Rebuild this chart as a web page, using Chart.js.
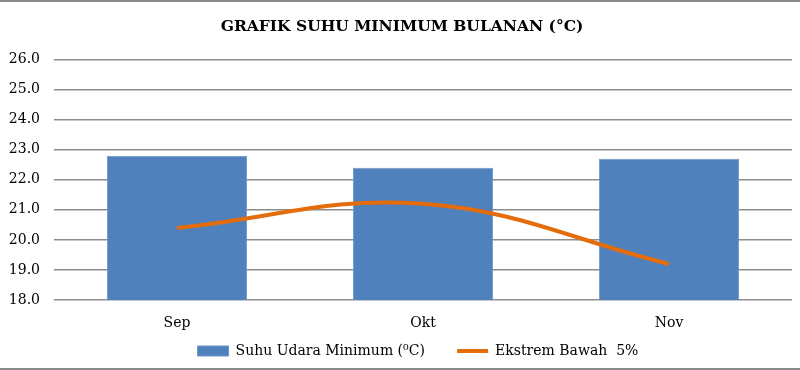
<!DOCTYPE html>
<html>
<head>
<meta charset="utf-8">
<script src="https://cdn.jsdelivr.net/npm/chart.js@4"></script>
<style>
  html, body { margin: 0; padding: 0; background: #fff; }
  #wrap {
    position: relative;
    width: 800px;
    height: 366px;
    border-top: 2px solid #8a8a8a;
    border-bottom: 2px solid #8a8a8a;
  }
</style>
</head>
<body>
<div id="wrap"><canvas id="chart"></canvas></div>
<script>
  var MONTHS = ['Sep', 'Okt', 'Nov'];
  var SUHU_MIN = [22.8, 22.4, 22.7];
  var EKSTREM_BAWAH = [20.4, 21.2, 19.2];
  var Y_MIN = 18.0;
  var Y_MAX = 26.0;

  var SERIF = '"DejaVu Serif", "Liberation Serif", serif';

  // the original has title and legend sitting a little right of centre
  var nudgeBoxes = {
    id: 'nudgeBoxes',
    afterLayout: function (chart) {
      if (chart.titleBlock) { chart.titleBlock.left += 6; chart.titleBlock.right += 6; }
      if (chart.legend) { chart.legend.left += 22; chart.legend.right += 22; }
    },
  };

  new Chart(document.getElementById('chart'), {
    data: {
      labels: MONTHS,
      datasets: [
        {
          type: 'line',
          label: 'Ekstrem Bawah  5%',
          data: EKSTREM_BAWAH,
          borderColor: '#e46c0a',
          backgroundColor: '#e46c0a',
          borderWidth: 4,
          tension: 0.4,
          pointRadius: 0,
          pointStyle: 'line',
          order: 0,
        },
        {
          type: 'bar',
          label: 'Suhu Udara Minimum (\u2070C)',
          data: SUHU_MIN,
          backgroundColor: '#4f81bd',
          borderColor: '#6f97c8',
          borderWidth: 1,
          categoryPercentage: 1.0,
          barPercentage: 0.57,
          pointStyle: 'rect',
          order: 1,
        },
      ],
    },
    plugins: [nudgeBoxes],
    options: {
      responsive: true,
      maintainAspectRatio: false,
      animation: false,
      layout: { padding: { left: 0, right: 8, top: 0, bottom: 0 } },
      plugins: {
        title: {
          display: true,
          text: 'GRAFIK SUHU MINIMUM BULANAN (\u00b0C)',
          color: '#000',
          font: { family: SERIF, size: 15.5, weight: 'bold' },
          padding: { top: 16, bottom: 23 },
        },
        legend: {
          position: 'bottom',
          reverse: true,
          labels: {
            color: '#000',
            font: { family: SERIF, size: 14 },
            usePointStyle: true,
            pointStyleWidth: 31,
            boxHeight: 10,
            padding: 10,
            generateLabels: function (chart) {
              var items = Chart.defaults.plugins.legend.labels.generateLabels(chart);
              // extra gap after the bar entry, like the original
              items.forEach(function (it) {
                if (it.datasetIndex === 1) it.text += '\u00a0\u00a0\u00a0\u00a0\u00a0';
              });
              return items;
            },
          },
        },
        tooltip: { enabled: false },
      },
      scales: {
        x: {
          afterFit: function (scale) { scale.height = 34; },
          grid: { display: false, drawTicks: false },
          border: { display: false },
          ticks: {
            color: '#000',
            font: { family: SERIF, size: 14 },
            padding: 15,
          },
        },
        y: {
          min: Y_MIN,
          max: Y_MAX,
          afterFit: function (scale) { scale.width = 54; },
          grid: { color: '#8c8c8c', lineWidth: 1.5, drawTicks: false },
          border: { display: false },
          ticks: {
            stepSize: 1,
            color: '#000',
            font: { family: SERIF, size: 14 },
            padding: 14,
            callback: function (v) { return v.toFixed(1); },
          },
        },
      },
    },
  });
</script>
</body>
</html>
